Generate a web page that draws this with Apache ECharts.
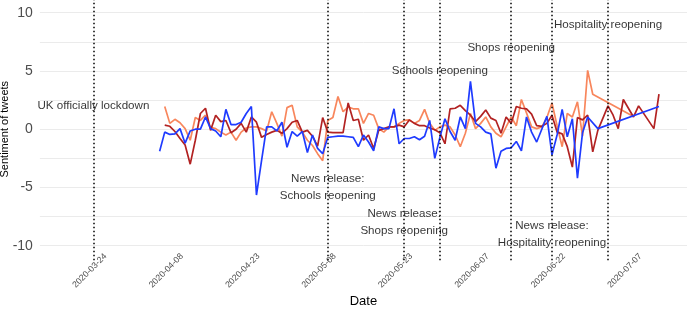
<!DOCTYPE html>
<html>
<head>
<meta charset="utf-8">
<script src="https://cdn.jsdelivr.net/npm/echarts@6/dist/echarts.min.js"></script>
<style>
  html, body { margin: 0; padding: 0; background: #fff; }
  #chart { width: 695px; height: 313px; }
</style>
</head>
<body>
<div id="chart"></div>
<script>
// axis range (daily categories) and tick labels
const firstDate = '2020-03-13';
const lastDate = '2020-07-17';
const tickLabels = ['2020-03-24', '2020-04-08', '2020-04-23', '2020-05-08', '2020-05-23', '2020-06-07', '2020-06-22', '2020-07-07'];

// daily sentiment, one value per day from the start date (null = no data that day)
const blueStart = '2020-04-05';
const blueValues = [
  -1.9, -0.25, -0.45, -0.4, 0.05, -1.2, -0.15, 0.0, 0.0, 1.05,
  0.05, -0.15, -0.65, 1.7, 0.4, 0.4, 0.6, 1.35, 1.95, -5.65,
  -2.7, 0.2, 0.2, -0.15, 0.6, -1.55, -0.2, -0.6, -0.2, -2.0,
  -0.5, -1.65, -2.1, -0.7, -0.65, -0.6, -0.6, -0.65, -0.7, -1.5,
  -0.5, -1.1, -1.85, 0.2, 0.05, 0.05, 1.75, -1.25, -0.8, -0.8,
  -0.65, -0.9, -0.6, 0.75, -2.5, -0.7, 0.9, -0.2, -0.95, 1.05,
  0.05, 4.1, 0.5, 0.2, -0.25, -0.4, -3.35, -1.9, -1.65, -1.6,
  -1.05, -1.85, 1.05, -0.25, -1.1, 0.0, 1.1, -2.2, -0.5, 1.7,
  -0.65, 0.9, -4.2, -0.3, 1.05, null, 0.05, null, null, null,
  null, null, null, null, null, null, null, null, 1.95
];

const redStart = '2020-04-06';
const redValues = [
  0.35, 0.25, -0.2, -0.8, -1.35, -3.0, -0.95, 1.35, 1.8, -0.1,
  1.2, 0.65, 0.75, -0.3, 0.0, 0.5, -0.25, 1.05, 0.6, -0.7,
  -0.45, -0.25, -0.1, -0.35, 0.05, 0.6, 0.75, -0.25, -0.1, -0.6,
  -1.45, 1.0, -0.25, -0.3, -0.3, -0.3, 2.25, 0.75, 0.85, -0.95,
  -0.5, -1.65, -0.1, 0.05, 0.2, 0.2, 0.35, 0.2, 0.8, 0.5,
  0.3, 0.3, 0.1, -0.05, -0.3, -1.25, 1.75, 1.8, 2.05, 1.6,
  1.2, 0.65, 1.1, 1.65, 0.95, 0.75, -0.35, 1.05, 0.5, 1.95,
  1.8, 1.75, 1.3, 0.3, 0.25, 0.5, 1.2, -0.25, -0.4, -1.5,
  -3.25, 1.0, 0.8, 1.2, -1.95, -0.1, null, 2.0, 1.2, 0.05,
  2.55, null, 1.05, 2.0, null, null, 0.05, 3.0
];

const orangeStart = '2020-04-06';
const orangeValues = [
  1.95, 0.5, 0.85, 0.55, 0.05, -0.95, 1.0, 0.75, 1.2, 0.15,
  0.05, -0.25, -0.5, -0.25, -0.95, -0.25, 0.1, 0.2, 0.2, 0.05,
  -0.15, 1.5, 0.5, -0.6, 1.85, 2.05, 0.2, -0.25, -0.95, -1.4,
  -2.1, -2.7, 0.75, 1.0, 2.8, 1.5, 1.9, 1.75, 1.75, 0.5,
  1.35, 1.2, 0.05, -0.25, 0.2, 0.2, 0.5, 0.75, 0.8, 0.5,
  0.75, 1.7, 0.5, -0.1, 0.2, 0.35, 0.2, -0.5, -1.5, -0.35,
  1.35, 0.05, 0.5, 1.05, 0.2, -0.35, -0.65, 0.2, 1.05, 0.3,
  2.55, 1.4, 0.2, 0.05, 0.2, 1.0, 2.25, 0.3, -1.5, 1.35,
  1.05, 2.35, -0.6, 5.05, 3.0, null, null, null, null, null,
  null, null, 1.1
];

// event lines and their annotations
const eventDates = ['2020-03-23', '2020-05-08', '2020-05-23', '2020-05-30', '2020-06-13', '2020-06-21', '2020-07-02'];
const eventLabels = ['UK officially lockdown', 'News release:\nSchools reopening', 'News release:\nShops reopening',
  'Schools reopening', 'Shops reopening', 'News release:\nHospitality reopening', 'Hospitality reopening'];
const eventLabelY = [2, -5, -8, 5, 7, -9, 9];

const DAY = 86400000;
function fmt(t) {
  return new Date(t).toISOString().slice(0, 10);
}
const dates = [];
for (let t = Date.parse(firstDate); t <= Date.parse(lastDate); t += DAY) dates.push(fmt(t));

function toPairs(start, values) {
  const t0 = Date.parse(start);
  return values.map((v, i) => [fmt(t0 + i * DAY), v]);
}

const FONT = '"Liberation Sans", Arial, sans-serif';
const gridLeft = 39.9, gridWidth = 647.1;

const chart = echarts.init(document.getElementById('chart'));

function lineSeries(name, color, start, values) {
  return {
    type: 'line',
    name: name,
    data: toPairs(start, values),
    showSymbol: false,
    connectNulls: true,
    lineStyle: { color: color, width: 1.7 },
    itemStyle: { color: color },
    silent: true
  };
}

let option = {
  animation: false,
  backgroundColor: '#fff',
  textStyle: { fontFamily: FONT },
  grid: [
    { left: gridLeft, width: gridWidth, top: -1.9, bottom: 52.7, outerBoundsMode: 'none' },
    { left: gridLeft + 7, width: gridWidth, top: 200, bottom: 62, outerBoundsMode: 'none' }
  ],
  xAxis: [
    {
      type: 'category',
      data: dates,
      boundaryGap: true,
      axisLine: { show: false },
      axisTick: { show: false },
      axisLabel: { show: false },
      splitLine: { show: false },
      name: 'Date',
      nameLocation: 'middle',
      nameGap: 35,
      nameMoveOverlap: false,
      nameTextStyle: { color: '#000', fontSize: 13, fontFamily: FONT }
    },
    {
      gridIndex: 1,
      type: 'category',
      data: dates,
      boundaryGap: true,
      axisLine: { show: false },
      axisTick: { show: false },
      splitLine: { show: false },
      axisLabel: {
        interval: (i, v) => tickLabels.indexOf(v) >= 0,
        rotate: 45,
        margin: 4,
        fontSize: 8.7,
        color: '#4d4d4d',
        fontFamily: FONT
      }
    }
  ],
  yAxis: [
    {
      type: 'value',
      min: -11.25,
      max: 11.25,
      interval: 1.25,
      axisLine: { show: false },
      axisTick: { show: false },
      axisLabel: {
        margin: 7,
        fontSize: 14,
        color: '#4d4d4d',
        fontFamily: FONT,
        formatter: v => (Math.abs(v % 5) < 1e-6 ? String(v) : '')
      },
      splitLine: {
        show: true,
        showMinLine: false,
        showMaxLine: false,
        lineStyle: { color: ['#ebebeb', 'rgba(0,0,0,0)'], width: 1 }
      },
      name: 'Sentiment of tweets',
      nameLocation: 'middle',
      nameRotate: 90,
      nameGap: 29,
      nameMoveOverlap: false,
      nameTextStyle: { color: '#000', fontSize: 11, fontFamily: FONT }
    },
    { gridIndex: 1, type: 'value', show: false }
  ],
  series: [
    lineSeries('Orange series', '#f8865c', orangeStart, orangeValues),
    lineSeries('Red series', '#b22222', redStart, redValues),
    lineSeries('Blue series', '#1f3bff', blueStart, blueValues),
    {
      type: 'scatter',
      name: 'Events',
      symbolSize: 1,
      itemStyle: { color: 'rgba(0,0,0,0)' },
      silent: true,
      z: 5,
      data: eventDates.map((d, i) => [d, eventLabelY[i], eventLabels[i]]),
      label: {
        show: true,
        position: 'inside',
        formatter: p => p.data[2],
        color: '#000',
        fontSize: 11.6,
        lineHeight: 17,
        align: 'center',
        fontFamily: FONT
      },
      markLine: {
        silent: true,
        symbol: ['none', 'none'],
        label: { show: false },
        lineStyle: { color: '#000', type: [1.5, 2.5], width: 1.5 },
        data: eventDates.map(d => ({ xAxis: d }))
      }
    }
  ]
};
chart.setOption(option);
</script>
</body>
</html>
